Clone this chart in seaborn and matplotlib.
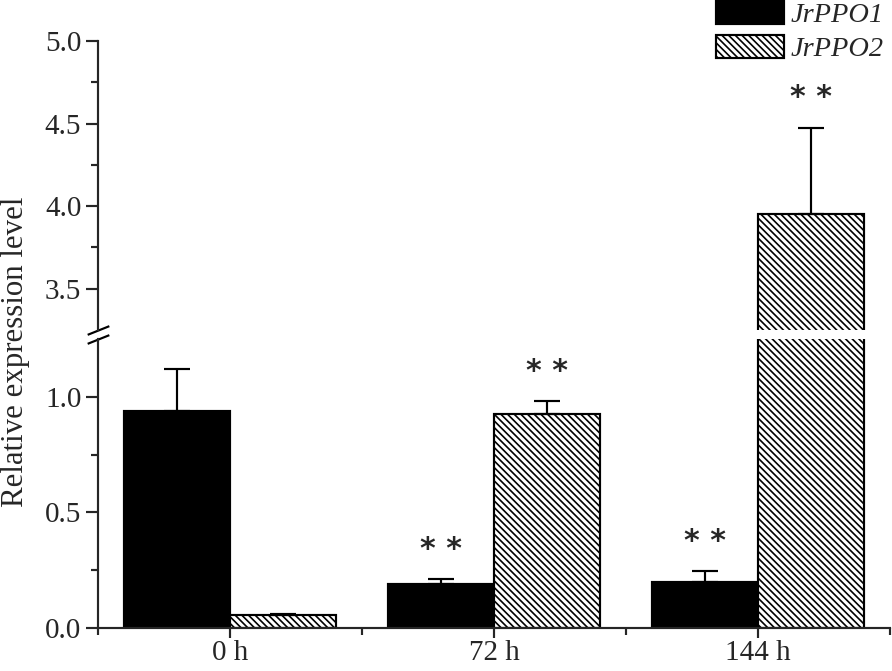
import numpy as np
import pandas as pd
import matplotlib.pyplot as plt
import seaborn as sns
from matplotlib.ticker import FixedLocator

times = ['0 h', '72 h', '144 h']
genes = ['JrPPO1', 'JrPPO2']
ppo1_mean = [0.94, 0.19, 0.20]
ppo1_err = [0.18, 0.02, 0.045]
ppo2_mean = [0.055, 0.925, 3.955]
ppo2_err = [0.005, 0.055, 0.52]
ppo1_sig = ['', '* *', '* *']
ppo2_sig = ['', '* *', '* *']

df = pd.DataFrame({'Time': times * 2,
                   'Gene': [genes[0]] * 3 + [genes[1]] * 3,
                   'Expression': ppo1_mean + ppo2_mean,
                   'Err': ppo1_err + ppo2_err,
                   'Sig': ppo1_sig + ppo2_sig})

sns.set_style('ticks')
plt.rcParams['font.family'] = ['Liberation Serif', 'DejaVu Serif']
plt.rcParams['hatch.linewidth'] = 1.0

DPI = 120
fig = plt.figure(figsize=(892 / DPI, 671 / DPI), dpi=DPI)
W, H = 892, 671
left, right = 98, 890
ax_top = fig.add_axes([left / W, 1 - 330 / H, (right - left) / W, (330 - 41) / H])
ax_bot = fig.add_axes([left / W, 1 - 628 / H, (right - left) / W, (628 - 339) / H])

lw = 1.3
for ax in (ax_top, ax_bot):
    sns.barplot(data=df, x='Time', y='Expression', hue='Gene', order=times,
                hue_order=genes, palette={'JrPPO1': 'black', 'JrPPO2': 'white'},
                edgecolor='black', linewidth=lw, errorbar=None, legend=False,
                width=0.8, ax=ax)
    for gene, cont in zip(genes, ax.containers):
        sub = df[df.Gene == gene].set_index('Time').loc[times]
        xs = [p.get_x() + p.get_width() / 2 for p in cont]
        if gene == 'JrPPO2':
            for p in cont:
                p.set_hatch('\\' * 6)
        ax.errorbar(xs, sub['Expression'], yerr=[np.zeros(len(xs)), sub['Err']],
                    fmt='none', ecolor='black', elinewidth=lw, capsize=8,
                    capthick=lw, zorder=1)
    ax.set_xlim(-0.5, 2.5)
    ax.set_xlabel('')
    ax.set_ylabel('')
    for s in ('top', 'right'):
        ax.spines[s].set_visible(False)
    ax.spines['left'].set_linewidth(lw)
    ax.spines['bottom'].set_linewidth(lw)
    ax.tick_params(axis='both', which='major', length=7, width=lw,
                   labelsize=17.5, direction='out', pad=3)
    ax.tick_params(axis='both', which='minor', length=4, width=lw, direction='out')

# significance stars
for gene, cont in zip(genes, ax_bot.containers):
    sub = df[df.Gene == gene].set_index('Time').loc[times]
    for p, (t, row) in zip(cont, sub.iterrows()):
        if not row['Sig']:
            continue
        top = row['Expression'] + row['Err']
        ax = ax_top if top > 1.25 else ax_bot
        ax.annotate(row['Sig'], (p.get_x() + p.get_width() / 2, top),
                    xytext=(0, 13), textcoords='offset points',
                    ha='center', va='baseline', fontsize=18,
                    family='DejaVu Sans', fontweight='bold')

ax_top.set_ylim(3.25, 5.0)
ax_top.yaxis.set_major_locator(FixedLocator([3.5, 4.0, 4.5, 5.0]))
ax_top.yaxis.set_minor_locator(FixedLocator([3.75, 4.25, 4.75]))
ax_top.set_yticklabels(['3.5', '4.0', '4.5', '5.0'])
ax_top.spines['bottom'].set_visible(False)
ax_top.tick_params(axis='x', which='both', bottom=False, labelbottom=False)

ax_bot.set_ylim(0, 1.25)
ax_bot.yaxis.set_major_locator(FixedLocator([0.0, 0.5, 1.0]))
ax_bot.yaxis.set_minor_locator(FixedLocator([0.25, 0.75]))
ax_bot.set_yticklabels(['0.0', '0.5', '1.0'])
ax_bot.xaxis.set_minor_locator(FixedLocator([-0.5, 0.5, 1.5, 2.5]))
ax_bot.tick_params(axis='x', which='major', length=6, pad=1)
ax_bot.tick_params(axis='x', which='minor', length=4)

# break marks on the y axis
mk = dict(marker=[(-1, -0.4), (1, 0.4)], markersize=13, linestyle='none',
          color='black', mec='black', mew=lw, clip_on=False)
ax_top.plot([0], [0], transform=ax_top.transAxes, **mk)
ax_bot.plot([0], [1], transform=ax_bot.transAxes, **mk)

fig.text(16 / W, 1 - 352 / H, 'Relative expression level', rotation=90,
         ha='center', va='center', fontsize=18.5)

handles = [ax_bot.containers[0][0], ax_bot.containers[1][0]]
fig.legend(handles, genes, loc='upper right', bbox_to_anchor=(1 - 8 / W, 1 - 1 / H),
           frameon=False, prop={'style': 'italic', 'size': 17},
           handlelength=2.4, handleheight=0.85, handletextpad=0.25,
           labelspacing=0.25, borderpad=0, borderaxespad=0)

fig.savefig('out.png', dpi=DPI, facecolor='white')
